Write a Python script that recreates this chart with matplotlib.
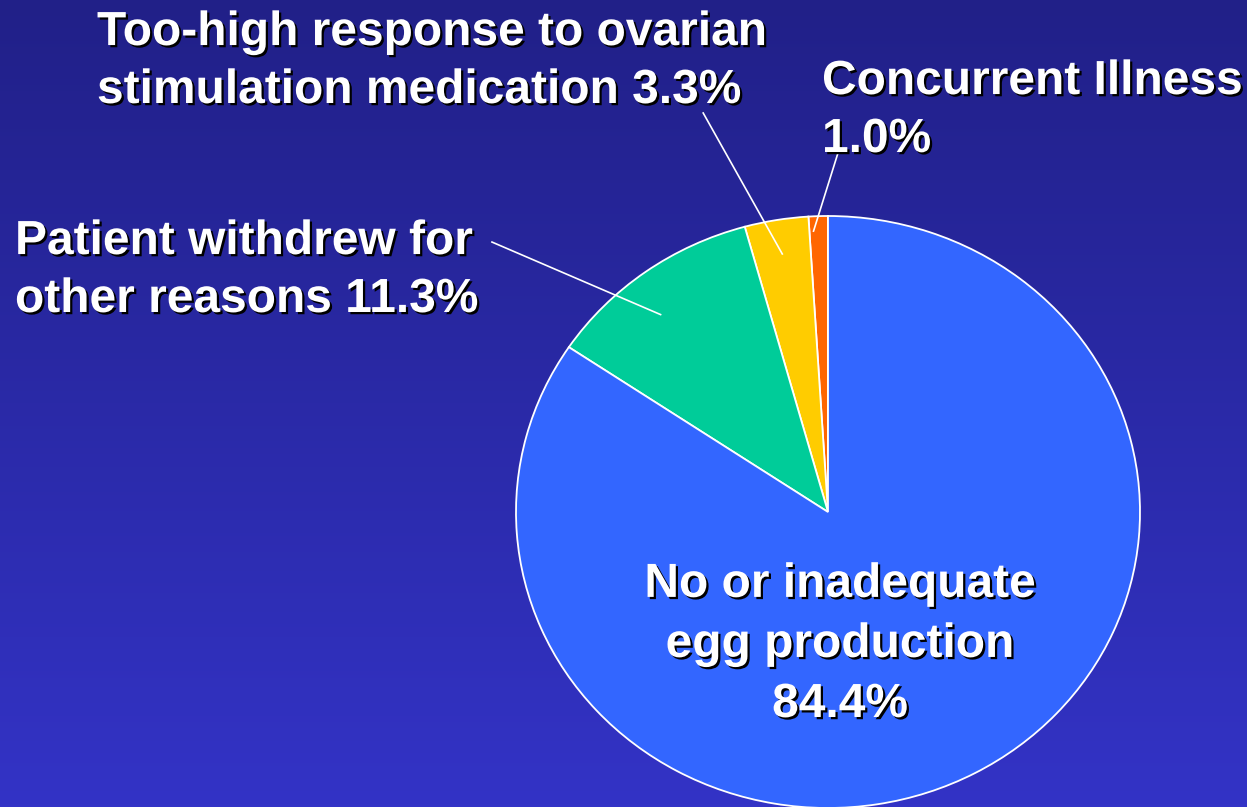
import numpy as np
import matplotlib
matplotlib.use("Agg")
import matplotlib.pyplot as plt
import matplotlib.patheffects as pe

# Data (counterclockwise from 12 o'clock)
categories = ["Concurrent Illness", "Too-high response to ovarian stimulation medication",
              "Patient withdrew for other reasons", "No or inadequate egg production"]
values = [1.0, 3.3, 11.3, 84.4]
colors = ["#FF6600", "#FFCC00", "#00CC99", "#3366FF"]

W, H = 1247, 807
fig = plt.figure(figsize=(W / 100, H / 100), dpi=100)

# background gradient
bg = fig.add_axes([0, 0, 1, 1])
top = np.array([0x21, 0x20, 0x88]) / 255
bot = np.array([0x33, 0x33, 0xC6]) / 255
t = np.linspace(0, 1, 256)[:, None]
grad = (top[None, :] * (1 - t) + bot[None, :] * t)[:, None, :]
bg.imshow(grad, aspect="auto", extent=[0, 1, 0, 1])
bg.set_axis_off()

# pie axes: center (828,512) px, radii 312 x 296 px (slightly flattened)
cx, cy, RX, RY = 828, 512, 312, 296
ax = fig.add_axes([(cx - RX) / W, (H - cy - RY) / H, 2 * RX / W, 2 * RY / H])
ax.pie(values, colors=colors, startangle=90, counterclock=True, radius=1,
       wedgeprops=dict(edgecolor="white", linewidth=1.3))
ax.set_xlim(-1, 1)
ax.set_ylim(-1, 1)
ax.set_aspect("auto")
ax.set_axis_off()

# leader lines from wedge mid angles
cum = np.cumsum([0] + values)
def mid_angle(i):
    return np.deg2rad(90 + 3.6 * (cum[i] + cum[i + 1]) / 2)

# index: (radius fraction, angle tweak deg, end point in data coords)
leaders = {0: (0.95, 1.0, (0.032, 1.213)),
           1: (0.884, 0.0, (-0.40, 1.348)),
           2: (0.856, 3.0, (-1.077, 0.912))}
for i, (r, da, end) in leaders.items():
    a = mid_angle(i) + np.deg2rad(da)
    p = (r * np.cos(a), r * np.sin(a))
    ax.plot([p[0], end[0]], [p[1], end[1]], color="white", lw=1.2, clip_on=False)

shadow = [pe.withSimplePatchShadow(offset=(1.6, -1.6), shadow_rgbFace="black", alpha=1.0)]
fs = 34.5
font = dict(family="Liberation Sans", weight="bold", color="white", fontsize=fs,
            path_effects=shadow, linespacing=1.37)

def fx(x):
    return x / W

def fy(y):
    return 1 - y / H

# y values are the baseline of the last line
fig.text(fx(97), fy(103), "Too-high response to ovarian\nstimulation medication 3.3%",
         ha="left", va="baseline", **font)
fig.text(fx(822), fy(152), "Concurrent Illness\n1.0%", ha="left", va="baseline", **font)
fig.text(fx(15), fy(312), "Patient withdrew for\nother reasons 11.3%", ha="left", va="baseline", **font)
fig.text(fx(840), fy(717), "No or inadequate\negg production\n84.4%", ha="center",
         va="baseline", multialignment="center", **dict(font, linespacing=1.43))

fig.savefig("out.png", dpi=100)
